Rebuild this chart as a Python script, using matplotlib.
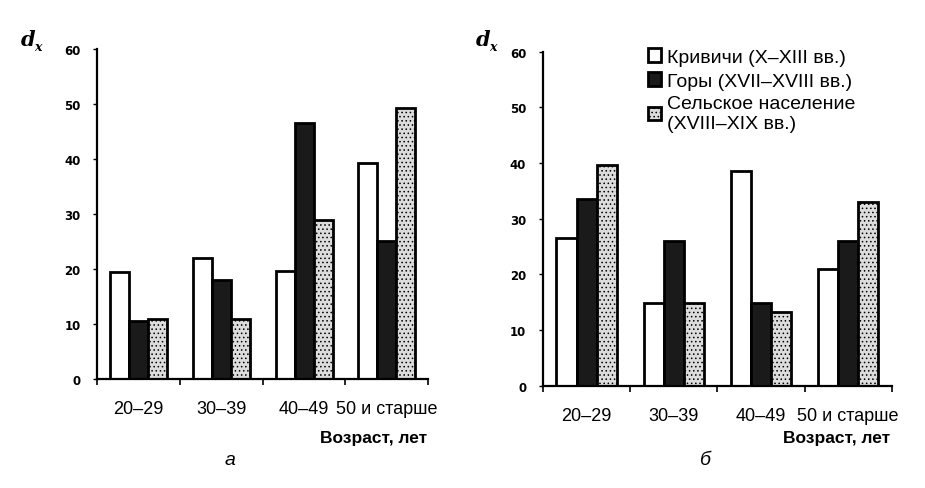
import numpy as np
import matplotlib
matplotlib.use('Agg')
import matplotlib.pyplot as plt

plt.rcParams['font.family'] = ['Liberation Sans', 'DejaVu Sans']
plt.rcParams['hatch.color'] = '#777777'
plt.rcParams['hatch.linewidth'] = 0.6

categories = ['20–29', '30–39', '40–49', '50 и старше']
series_names = ['Кривичи (X–XIII вв.)', 'Горы (XVII–XVIII вв.)', 'Сельское население\n(XVIII–XIX вв.)']

# panel а
krivichi_a = [19.5, 22.0, 19.7, 39.2]
gory_a = [10.6, 18.0, 46.6, 25.1]
selo_a = [10.9, 10.9, 28.9, 49.2]

# panel б
krivichi_b = [26.5, 14.9, 38.6, 21.0]
gory_b = [33.5, 26.1, 14.8, 26.1]
selo_b = [39.6, 14.9, 13.3, 33.1]

face = ['white', '#1a1a1a', '#dcdcdc']
hatches = [None, None, '....']

fig = plt.figure(figsize=(9.25, 4.89), dpi=100)
ax_a = fig.add_axes([0.105, 0.223, 0.358, 0.675])
ax_b = fig.add_axes([0.587, 0.209, 0.377, 0.683])


def draw(ax, data):
    x = np.arange(len(categories))
    w = 0.23
    bars = []
    for k, vals in enumerate(data):
        b = ax.bar(x + (k - 1) * w, vals, width=w, color=face[k], edgecolor='black',
                   linewidth=2.0, hatch=hatches[k], label=series_names[k], zorder=2)
        bars.append(b)
    ax.set_xlim(-0.5, 3.5)
    ax.set_ylim(0, 60)
    ax.set_yticks(np.arange(0, 61, 10))
    ax.set_xticks(x)
    ax.set_xticklabels(categories, fontsize=13)
    ax.set_xticks(np.arange(-0.5, 3.6, 1), minor=True)
    ax.tick_params(axis='x', which='major', length=0, pad=15)
    ax.tick_params(axis='x', which='minor', length=4, width=1.2, direction='out')
    ax.tick_params(axis='y', length=3, width=1.0, direction='out', pad=9)
    for lab in ax.get_yticklabels():
        lab.set_fontsize(8.5)
        lab.set_fontweight('bold')
        lab.set_family('DejaVu Sans')
    ax.spines['top'].set_visible(False)
    ax.spines['right'].set_visible(False)
    ax.spines['left'].set_linewidth(1.6)
    ax.spines['bottom'].set_linewidth(1.6)
    return bars


draw(ax_a, [krivichi_a, gory_a, selo_a])
draw(ax_b, [krivichi_b, gory_b, selo_b])

ax_b.legend(loc='upper left', bbox_to_anchor=(0.30, 1.01), frameon=False, fontsize=14,
            borderaxespad=0, borderpad=0,
            handlelength=0.7, handleheight=0.7, handletextpad=0.3, labelspacing=0.3)

# axis labels
fig.text(0.022, 0.905, 'd', fontsize=15, fontweight='bold', style='italic', family='DejaVu Serif')
fig.text(0.037, 0.895, 'x', fontsize=9, fontweight='bold', style='italic', family='DejaVu Serif')
fig.text(0.514, 0.905, 'd', fontsize=15, fontweight='bold', style='italic', family='DejaVu Serif')
fig.text(0.529, 0.895, 'x', fontsize=9, fontweight='bold', style='italic', family='DejaVu Serif')

fig.text(0.462, 0.104, 'Возраст, лет', fontsize=12.5, fontweight='bold', ha='right', va='center')
fig.text(0.962, 0.104, 'Возраст, лет', fontsize=12.5, fontweight='bold', ha='right', va='center')

fig.text(0.249, 0.058, 'а', fontsize=14, style='italic', ha='center', va='center')
fig.text(0.763, 0.058, 'б', fontsize=14, style='italic', ha='center', va='center')

fig.savefig('out.png', dpi=100, facecolor='white')
